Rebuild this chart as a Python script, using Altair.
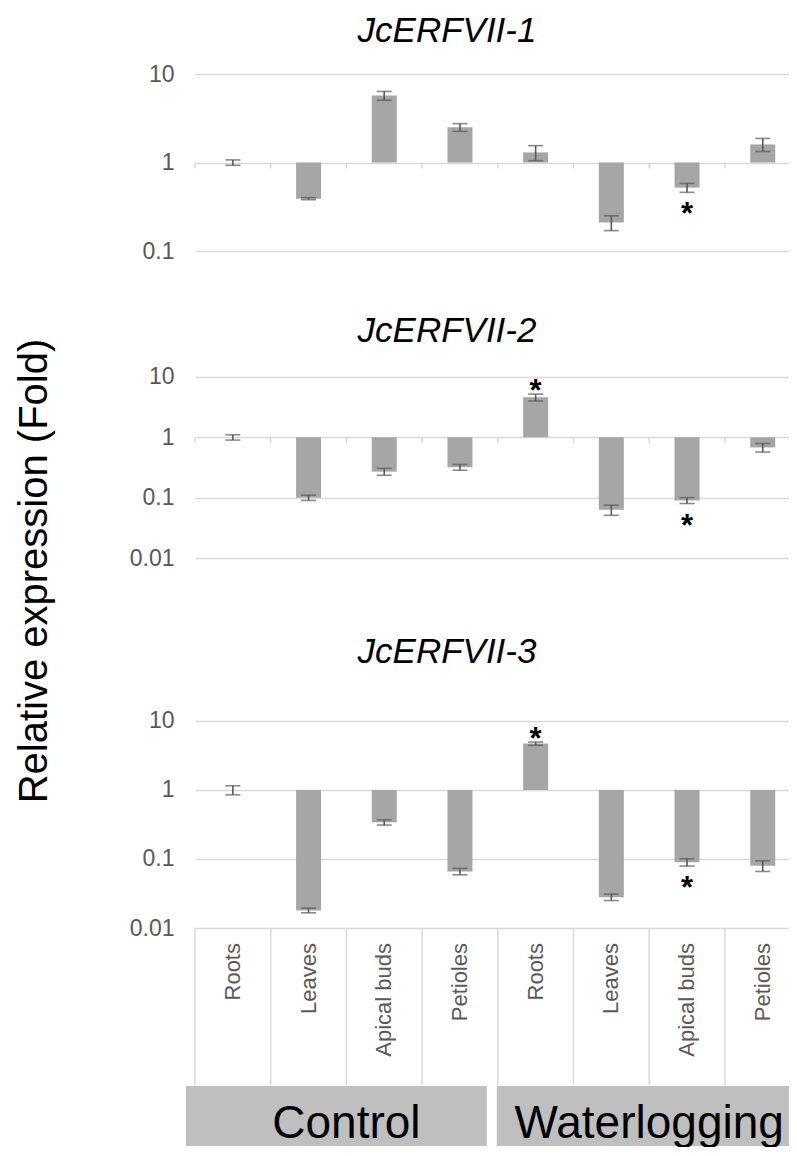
import altair as alt
import pandas as pd

# ---------------- data ----------------
tissues = ["Roots", "Leaves", "Apical buds", "Petioles"]
conditions = ["Control", "Waterlogging"]
genes = ["JcERFVII-1", "JcERFVII-2", "JcERFVII-3"]

gene1_mean = [1.0, 0.39, 5.7, 2.5, 1.3, 0.21, 0.52, 1.6]
gene1_err = [0.07, 0.01, 0.65, 0.25, 0.25, 0.04, 0.06, 0.27]
gene1_sig = ["", "", "", "", "", "", "below", ""]

gene2_mean = [1.0, 0.10, 0.27, 0.32, 4.6, 0.063, 0.09, 0.68]
gene2_err = [0.1, 0.01, 0.035, 0.035, 0.6, 0.012, 0.01, 0.11]
gene2_sig = ["", "", "", "", "above", "", "below", ""]

gene3_mean = [1.0, 0.018, 0.34, 0.066, 4.7, 0.028, 0.09, 0.08]
gene3_err = [0.15, 0.0014, 0.03, 0.007, 0.25, 0.003, 0.011, 0.014]
gene3_sig = ["", "", "", "", "above", "", "below", ""]

ticks_p1 = [0.1, 1, 10]
ticks_p23 = [0.01, 0.1, 1, 10]

# ---------------- styling ----------------
FONT = "Liberation Sans"
BAR = "#a6a6a6"
ERR = "#595959"
GRID = "#d9d9d9"
LABEL = "#595959"
BOX = "#bfbfbf"
STEP = 75.7
W = 594

cat_ids = [f"{c}|{t}" for c in conditions for t in tissues]
cat_tissue = [t for c in conditions for t in tissues]

xsc = alt.Scale(domain=cat_ids, range=[0, STEP * len(cat_ids)], paddingInner=0, paddingOuter=0)


def make_df(mean, err, sig):
    return pd.DataFrame({
        "cat": cat_ids,
        "mean": mean,
        "lo": [m - e for m, e in zip(mean, err)],
        "hi": [m + e for m, e in zip(mean, err)],
        "sig": sig,
    })


def panel(df, gene, ydomain, yvalues, height, title_y, ticks_at_one, extra=None):
    ysc = alt.Scale(type="log", domain=ydomain, nice=False)
    yaxis = alt.Axis(values=yvalues, format="~g", domain=False, ticks=False,
                     grid=True, gridColor=GRID, gridWidth=1.5,
                     labelFont=FONT, labelFontSize=23, labelColor=LABEL,
                     labelPadding=21, title=None)
    x = alt.X("cat:N", scale=xsc, axis=None)
    base = alt.Chart(df)
    bars = base.mark_bar(size=25, color=BAR).encode(
        x=x, y=alt.Y("mean:Q", scale=ysc, axis=yaxis), y2=alt.datum(1))
    err = base.mark_rule(color=ERR, strokeWidth=1.6).encode(
        x=x, y=alt.Y("lo:Q", scale=ysc, axis=yaxis), y2="hi:Q")
    cap_lo = base.mark_tick(size=15, thickness=1.6, color=ERR).encode(
        x=x, y=alt.Y("lo:Q", scale=ysc, axis=yaxis))
    cap_hi = base.mark_tick(size=15, thickness=1.6, color=ERR).encode(
        x=x, y=alt.Y("hi:Q", scale=ysc, axis=yaxis))
    star_below = base.transform_filter(alt.datum.sig == "below").mark_text(
        text="*", font=FONT, fontSize=31, fontWeight="bold", color="black",
        baseline="alphabetic", dy=32).encode(x=x, y=alt.Y("lo:Q", scale=ysc, axis=yaxis))
    star_above = base.transform_filter(alt.datum.sig == "above").mark_text(
        text="*", font=FONT, fontSize=31, fontWeight="bold", color="black",
        baseline="alphabetic", dy=7).encode(x=x, y=alt.Y("hi:Q", scale=ysc, axis=yaxis))
    title = alt.Chart(pd.DataFrame({"t": [gene]})).mark_text(
        font=FONT, fontSize=35, fontStyle="italic", color="black",
        align="center", baseline="alphabetic").encode(
        text="t:N", x=alt.value(252), y=alt.value(title_y))
    layers = [bars, err, cap_lo, cap_hi, star_below, star_above, title]
    if ticks_at_one:
        ticks = base.mark_rule(color=GRID, strokeWidth=1.5, y2Offset=6).encode(
            x=alt.X("cat:N", scale=xsc, axis=None, bandPosition=0),
            y=alt.YDatum(datum=1, scale=ysc, axis=yaxis), y2=alt.datum(1))
        layers.append(ticks)
    if extra is not None:
        layers.append(extra)
    return alt.layer(*layers).properties(width=W, height=height)


df1 = make_df(gene1_mean, gene1_err, gene1_sig)
df2 = make_df(gene2_mean, gene2_err, gene2_sig)
df3 = make_df(gene3_mean, gene3_err, gene3_sig)

ytitle = alt.Chart(pd.DataFrame({"t": ["Relative expression (Fold)"]})).mark_text(
    font=FONT, fontSize=40, color="black", angle=270, align="center",
    baseline="alphabetic").encode(text="t:N", x=alt.value(-148), y=alt.value(320))

# panel heights include the blank space above each panel's top gridline
p1 = panel(df1, genes[0], [0.1, 10], ticks_p1, 177, -32, True)
p2 = panel(df2, genes[1], [0.01, 1225], ticks_p23, 307, 91, True, extra=ytitle)
p3 = panel(df3, genes[2], [0.01, 2301], ticks_p23, 370, 105, False)

# ---------------- category table ----------------
TH = 218
idx_df = pd.DataFrame({"i": list(range(len(cat_ids))), "tissue": cat_tissue})
xq = alt.Scale(domain=[0, len(cat_ids)], range=[0, STEP * len(cat_ids)])
seps = alt.Chart(idx_df).mark_rule(color=GRID, strokeWidth=1.5).encode(
    x=alt.X("i:Q", scale=xq, axis=None), y=alt.value(0), y2=alt.value(157))
labels = alt.Chart(idx_df).transform_calculate(c="datum.i + 0.5").mark_text(
    angle=270, align="right", baseline="middle", font=FONT, fontSize=22,
    color=LABEL).encode(x=alt.X("c:Q", scale=xq, axis=None), y=alt.value(15),
                        text="tissue:N")
grp_df = pd.DataFrame({"cond": conditions,
                       "start": [0, len(tissues)],
                       "end": [len(tissues), 2 * len(tissues)]})
box_c = alt.Chart(grp_df).transform_filter(alt.datum.cond == "Control").mark_rect(
    color=BOX, xOffset=-9, x2Offset=-11).encode(
    x=alt.X("start:Q", scale=xq, axis=None), x2="end:Q",
    y=alt.value(158), y2=alt.value(TH))
box_w = alt.Chart(grp_df).transform_filter(alt.datum.cond == "Waterlogging").mark_rect(
    color=BOX, xOffset=-1, clip=True).encode(
    x=alt.X("start:Q", scale=xq, axis=None), x2="end:Q",
    y=alt.value(158), y2=alt.value(TH))
grp_text = alt.Chart(grp_df).transform_calculate(m="(datum.start + datum.end) / 2").mark_text(
    font=FONT, fontSize=46, color="black", align="center", baseline="alphabetic").encode(
    x=alt.X("m:Q", scale=xq, axis=None), y=alt.value(210), text="cond:N")
table = alt.layer(seps, labels, box_c, box_w, grp_text).properties(width=W, height=TH)

chart = alt.vconcat(p1, p2, p3, table, spacing=0, bounds="flush").properties(
    padding={"left": 7, "top": 6, "right": 0, "bottom": 0}
).configure_view(stroke=None).configure_axis(labelFont=FONT)

chart.save("out.html", embed_options={"renderer": "svg", "actions": False})
